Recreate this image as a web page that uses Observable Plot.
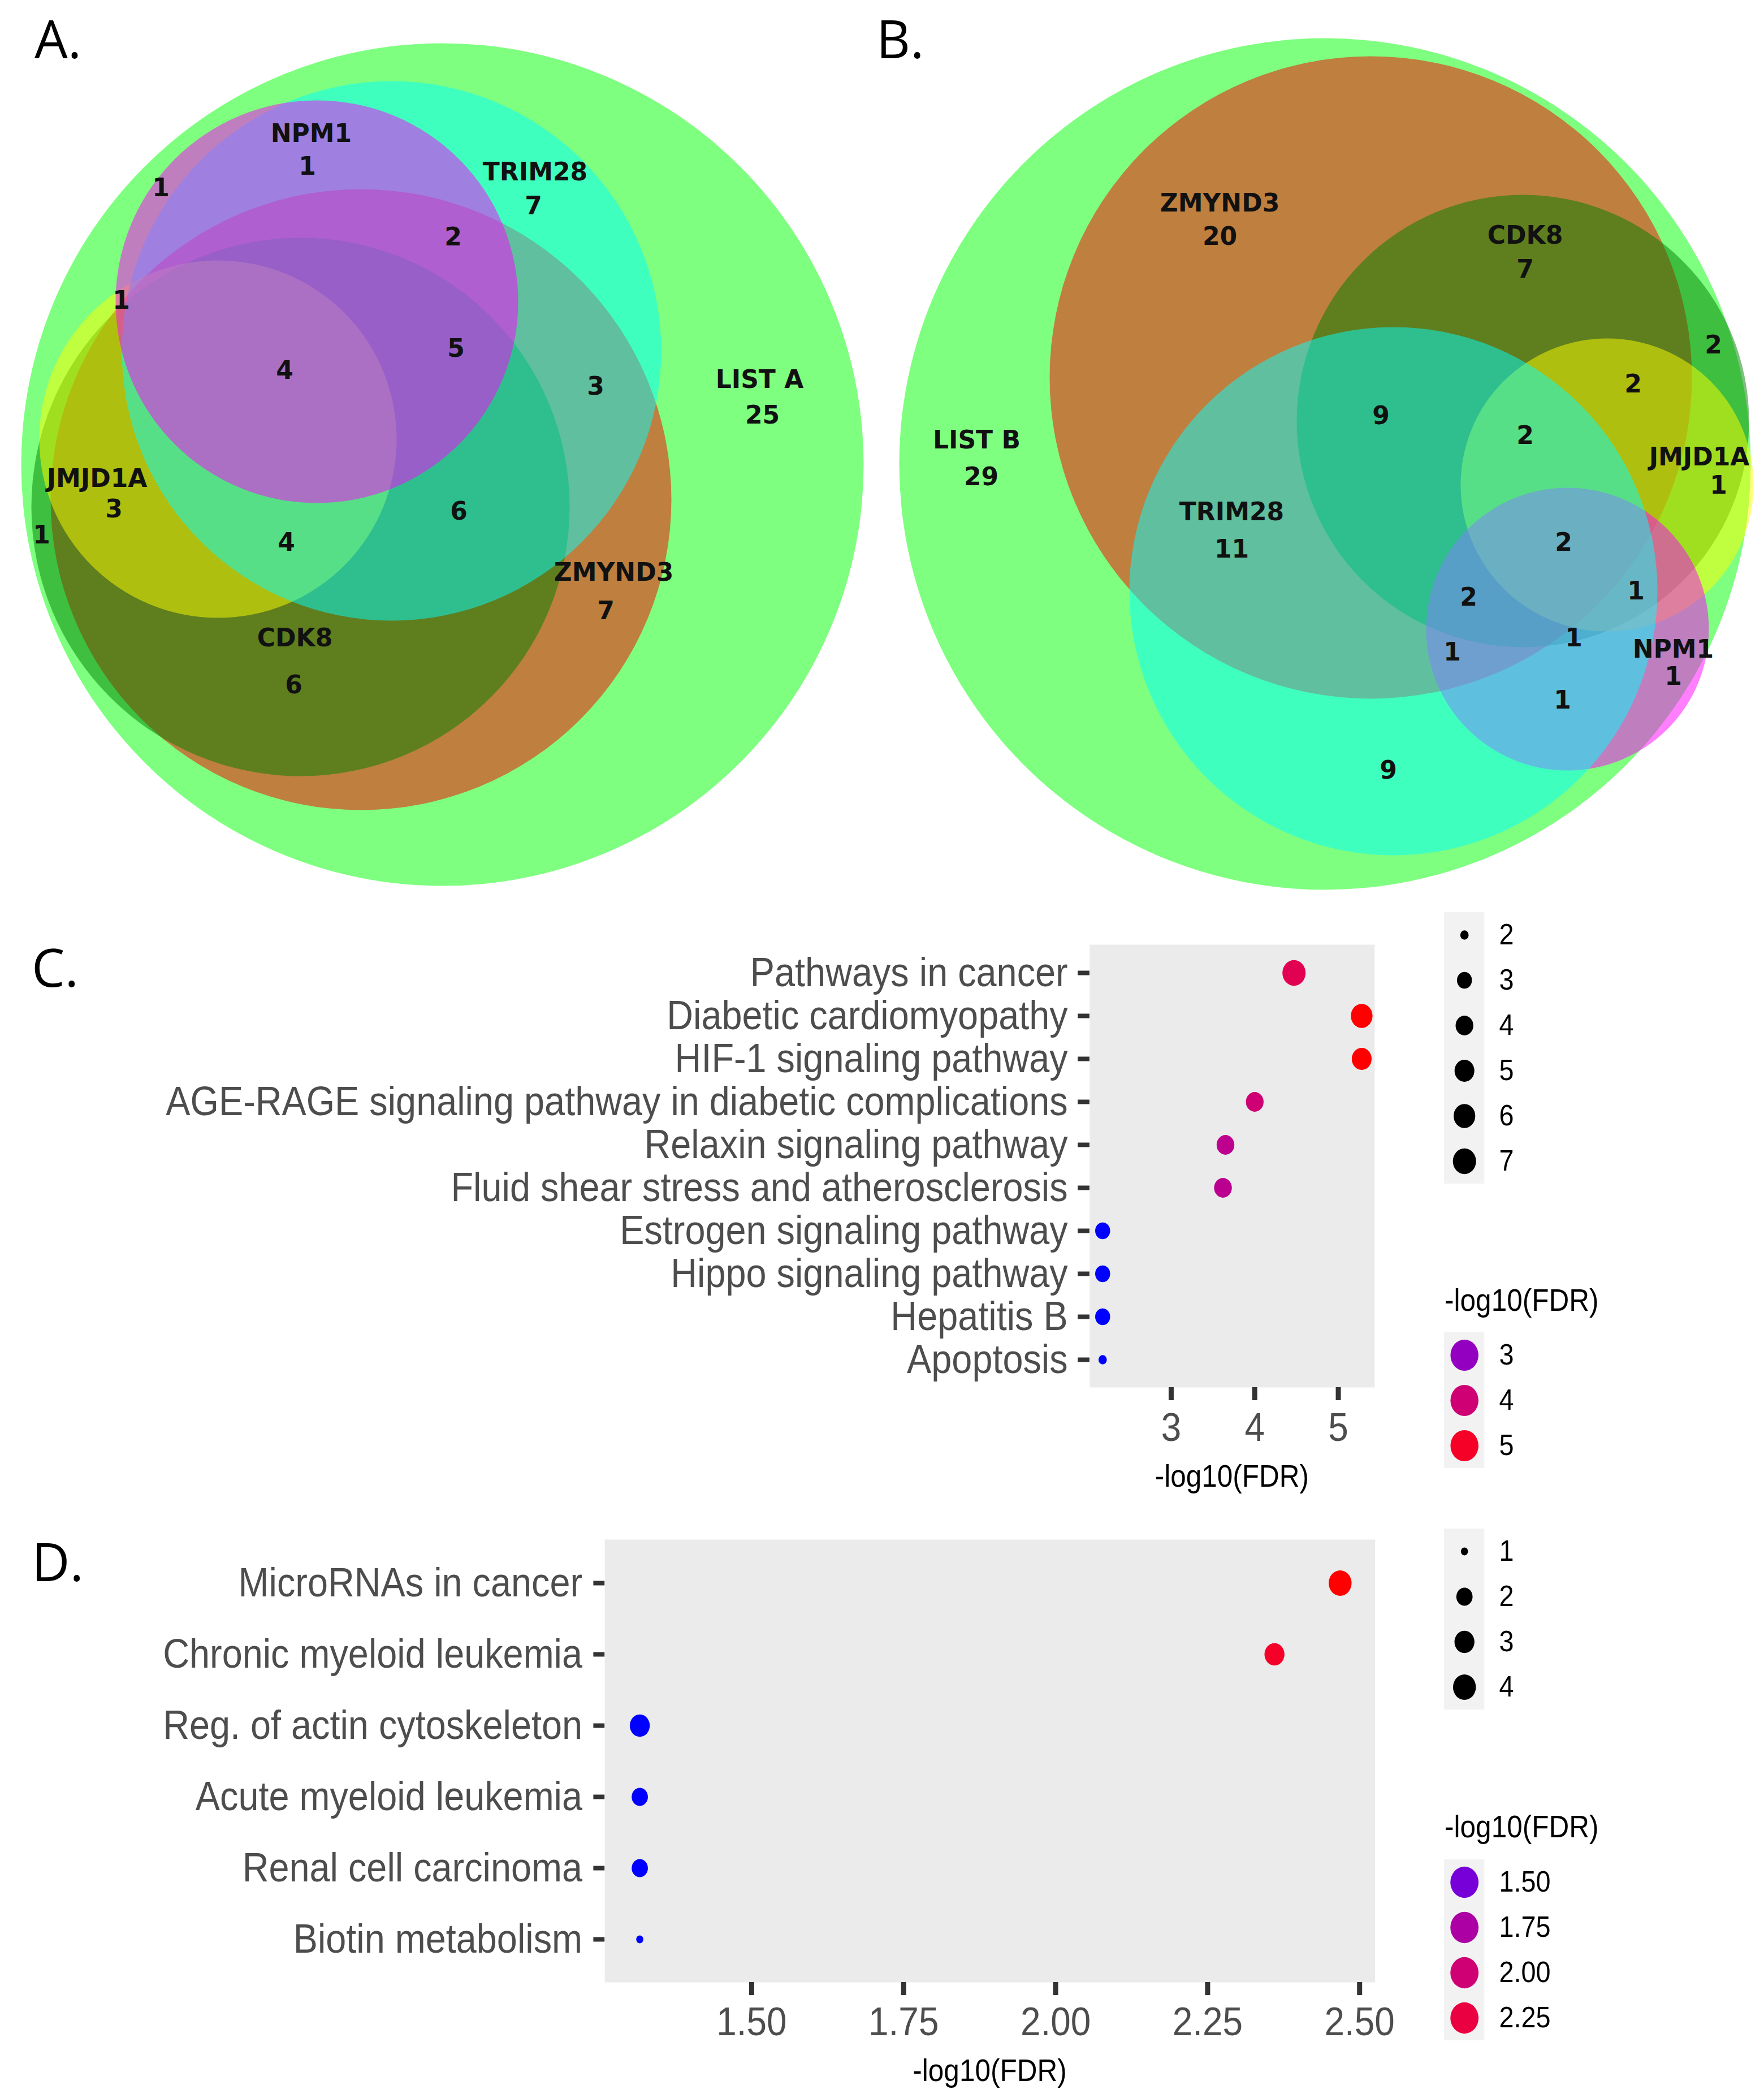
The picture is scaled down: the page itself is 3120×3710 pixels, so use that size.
<!DOCTYPE html>
<html>
<head>
<meta charset="utf-8">
<script src="https://cdn.jsdelivr.net/npm/d3@7"></script>
<script src="https://cdn.jsdelivr.net/npm/@observablehq/plot@0.6"></script>
<style>
  html, body { margin: 0; padding: 0; background: #ffffff; }
  #fig { position: relative; width: 3120px; height: 3710px; overflow: hidden; font-family: "Liberation Sans", Arial, sans-serif; }
  .abs { position: absolute; }
  .letter { font-family: "Open Sans", "Liberation Sans", sans-serif; font-size: 93px; line-height: 1; color: #000; white-space: nowrap; }
  #cd { position: absolute; left: 0; top: 0; width: 3467px; height: 3710px; transform: scaleX(0.9); transform-origin: 0 0; }
  .ttl { line-height: 1; color: #000; white-space: nowrap; }
</style>
</head>
<body>
<div id="fig"><div id="cd"></div></div>
<script>
// ================= DATA =================
// Euler / Venn diagrams: set names, fill colours, layout and region counts
const setNames = ["LIST A", "LIST B", "ZMYND3", "CDK8", "JMJD1A", "TRIM28", "NPM1"];
const setFill  = ["#00ff00", "#00ff00", "#ff0000", "#008000", "#ffff00", "#00ffff", "#ff00ff"];

// Panel A (drawing order)
const setsA = ["LIST A", "ZMYND3", "CDK8", "JMJD1A", "TRIM28", "NPM1"];
const layoutA = [ // circle centre x, centre y, radius (diagram units)
  [78.2, 82.1, 74.5],
  [63.8, 88.3, 54.9],
  [53.1, 89.6, 47.6],
  [38.5, 77.6, 31.6],
  [69.2, 62.0, 47.7],
  [56.0, 53.3, 35.6]
];
const labelsA = ["NPM1","1","1","TRIM28","7","2","1","4","5","3","LIST A","25","JMJD1A","3","1","4","6","ZMYND3","7","CDK8","6"];
const labelPosA = [
  [55.0,23.6],[54.3,29.4],[28.4,33.2],[94.6,30.4],[94.3,36.4],[80.1,41.9],[21.4,53.1],
  [50.3,65.5],[80.6,61.6],[105.3,68.3],[134.3,67.1],[134.8,73.4],[17.1,84.6],[20.1,90.0],
  [7.3,94.6],[50.6,95.9],[81.1,90.4],[108.5,101.2],[107.1,108.0],[52.1,112.8],[51.9,121.1]
];

// Panel B (drawing order)
const setsB = ["LIST B", "ZMYND3", "CDK8", "JMJD1A", "NPM1", "TRIM28"];
const layoutB = [
  [80.3, 82.0, 75.3],
  [88.4, 66.7, 56.8],
  [115.3, 74.4, 40.0],
  [130.2, 85.7, 25.9],
  [123.2, 111.2, 25.0],
  [92.4, 104.5, 46.7]
];
const labelsB = ["ZMYND3","20","CDK8","7","2","2","9","2","LIST B","29","JMJD1A","1","TRIM28","11","2","2","1","1","NPM1","1","1","1","9"];
const labelPosB = [
  [61.7,35.9],[61.7,41.8],[115.7,41.6],[115.7,47.6],[149.0,61.0],[134.8,67.9],[90.2,73.5],
  [115.7,77.0],[18.7,77.8],[19.5,84.3],[146.5,80.8],[149.9,85.8],[63.8,90.5],[63.8,97.1],
  [122.5,95.9],[105.7,105.6],[135.3,104.5],[124.3,112.8],[141.9,114.8],[141.9,119.6],
  [102.8,115.3],[122.3,123.8],[91.5,136.2]
];

// Panel C: KEGG enrichment
const cTerms = [
  "Pathways in cancer", "Diabetic cardiomyopathy", "HIF-1 signaling pathway",
  "AGE-RAGE signaling pathway in diabetic complications", "Relaxin signaling pathway",
  "Fluid shear stress and atherosclerosis", "Estrogen signaling pathway",
  "Hippo signaling pathway", "Hepatitis B", "Apoptosis"
];
const cFDR   = [4.47, 5.28, 5.28, 4.00, 3.65, 3.62, 2.18, 2.18, 2.18, 2.18];
const cGenes = [7, 6, 5, 4, 4, 4, 3, 3, 3, 2];
const cXTicks = [3, 4, 5];
const cSizeKeys = [2, 3, 4, 5, 6, 7];
const cColorKeys = [3, 4, 5];

// Panel D
const dTerms = [
  "MicroRNAs in cancer", "Chronic myeloid leukemia", "Reg. of actin cytoskeleton",
  "Acute myeloid leukemia", "Renal cell carcinoma", "Biotin metabolism"
];
const dFDR   = [2.468, 2.36, 1.316, 1.316, 1.316, 1.316];
const dGenes = [4, 3, 3, 2, 2, 1];
const dXTicks = [1.5, 1.75, 2.0, 2.25, 2.5];
const dSizeKeys = [1, 2, 3, 4];
const dColorKeys = [1.5, 1.75, 2.0, 2.25];

const axisTitle = "-log10(FDR)";

// ================= HELPERS =================
const fig = document.getElementById("fig");
const cd = document.getElementById("cd");

function place(parent, node, left, top, extra) {
  const d = document.createElement("div");
  d.className = "abs";
  d.style.left = left + "px";
  d.style.top = top + "px";
  if (extra) Object.assign(d.style, extra);
  d.appendChild(node);
  parent.appendChild(d);
  return d;
}
function textDiv(parent, text, left, top, size, cls, extra) {
  const d = document.createElement("div");
  d.className = "abs " + cls;
  d.style.left = left + "px";
  d.style.top = top + "px";
  d.style.fontSize = size + "px";
  if (extra) Object.assign(d.style, extra);
  d.textContent = text;
  parent.appendChild(d);
  return d;
}
const baseStyle = {background: "transparent", overflow: "visible", maxWidth: "none", fontFamily: "'Liberation Sans', Arial, sans-serif"};

function vennPlot(sets, layout, labels, pos, W, H) {
  const circles = sets.map((set, i) => ({set, cx: layout[i][0], cy: layout[i][1], r: layout[i][2]}));
  const texts = labels.map((text, i) => ({text, x: pos[i][0], y: pos[i][1]}));
  return Plot.plot({
    width: W, height: H, margin: 0,
    style: baseStyle,
    x: {domain: [0, W / 10], range: [0, W], axis: null},
    y: {domain: [0, H / 10], range: [0, H], axis: null},
    r: {type: "linear", domain: [0, 100], range: [0, 1000]},
    color: {type: "ordinal", domain: setNames, range: setFill},
    marks: [
      Plot.dot(circles, {x: "cx", y: "cy", r: "r", fill: "set", fillOpacity: 0.5, sort: null}),
      Plot.text(texts, {x: "x", y: "y", text: "text", fontFamily: "DejaVu Sans", fontWeight: "bold", fontSize: 44, fill: "#111"})
    ]
  });
}

function sizeScale(genes, r0, r1) {
  const lo = d3.min(genes);
  return {type: "linear", transform: v => Math.sqrt(v - lo), range: [r0, r1]};
}
function colorScale(fdr) {
  return {type: "linear", domain: d3.extent(fdr), range: ["blue", "red"], interpolate: "lab"};
}

function dotPlot(o) {
  const rows = o.terms.map((term, i) => ({term, fdr: o.fdr[i], genes: o.genes[i]}));
  const [lo, hi] = d3.extent(o.fdr);
  const e = 0.05 * (hi - lo);
  const mr = 40;
  return Plot.plot({
    width: o.ml + o.panelW + mr, height: o.mt + o.panelH + o.mb,
    marginLeft: o.ml, marginRight: mr, marginTop: o.mt, marginBottom: o.mb,
    style: Object.assign({}, baseStyle, {fontSize: o.xSize + "px", color: "#4d4d4d"}),
    x: {domain: [lo - e, hi + e]},
    y: {type: "point", domain: o.terms, padding: 0.6},
    r: sizeScale(o.genes, o.r0, o.r1),
    color: colorScale(o.fdr),
    marks: [
      Plot.frame({fill: "#ebebeb", stroke: "none"}),
      Plot.axisY({tickSize: o.yTick, tickPadding: o.yPad, stroke: "#333333", strokeWidth: 8, strokeLinecap: "butt", fill: "#4d4d4d", fontSize: o.ySize, label: null}),
      Plot.axisX({ticks: o.xTicks, tickFormat: o.xFormat, tickSize: o.xTick, tickPadding: o.xPad, stroke: "#333333", strokeWidth: 10, strokeLinecap: "butt", fill: "#4d4d4d", fontSize: o.xSize, label: null}),
      Plot.dot(rows, {x: "fdr", y: "term", r: "genes", fill: "fdr"})
    ]
  });
}

function keyPlot(values, dotOpts, scales, fmt) {
  const kh = 80, kw = 79;
  return Plot.plot(Object.assign({
    width: 260, height: values.length * kh, margin: 0,
    style: Object.assign({}, baseStyle, {fontSize: "52px", color: "#000"}),
    x: {type: "band", domain: ["key"], range: [0, kw], padding: 0, axis: null},
    y: {type: "band", domain: values, range: [0, values.length * kh], padding: 0, axis: null},
    marks: [
      Plot.cell(values, {x: () => "key", y: d => d, fill: "#f2f2f2", inset: 0}),
      Plot.dot(values, Object.assign({x: () => "key", y: d => d}, dotOpts)),
      Plot.text(values, {x: () => "key", y: d => d, text: d => fmt(d), textAnchor: "start", dx: 68, fontSize: 52, fill: "#000"})
    ]
  }, scales));
}

// ================= VENN PANELS =================
place(fig, vennPlot(setsA, layoutA, labelsA, labelPosA, 1560, 1600), 0, 0);
place(fig, vennPlot(setsB, layoutB, labelsB, labelPosB, 1580, 1600), 1540, 0);

// ================= PANEL C =================
place(cd, dotPlot({
  terms: cTerms, fdr: cFDR, genes: cGenes, xTicks: cXTicks, xFormat: d3.format("d"),
  ml: 2141, mt: 70, panelW: 560, panelH: 783, mb: 130,
  ySize: 72, xSize: 71, yTick: 23, yPad: 20, xTick: 23, xPad: 21, r0: 8.2, r1: 22.8
}), 0, 1600);
textDiv(cd, axisTitle, 2141, 2583, 55, "ttl", {width: "560px", textAlign: "center"});
place(cd, keyPlot(cSizeKeys, {r: d => d, fill: "black"}, {r: sizeScale(cGenes, 8.2, 22.8)}, d3.format("d")), 2838, 1613);
textDiv(cd, axisTitle, 2839, 2272, 55, "ttl");
place(cd, keyPlot(cColorKeys, {r: 27.5, fill: d => d}, {color: colorScale(cFDR)}, d3.format("d")), 2838, 2356);

// ================= PANEL D =================
place(cd, dotPlot({
  terms: dTerms, fdr: dFDR, genes: dGenes, xTicks: dXTicks, xFormat: d3.format(".2f"),
  ml: 1188, mt: 72, panelW: 1514, panelH: 783, mb: 120,
  ySize: 72, xSize: 71, yTick: 22, yPad: 22, xTick: 23, xPad: 20, r0: 7, r1: 22.5
}), 0, 2650);
textDiv(cd, axisTitle, 1188, 3634, 55, "ttl", {width: "1514px", textAlign: "center"});
place(cd, keyPlot(dSizeKeys, {r: d => d, fill: "black"}, {r: sizeScale(dGenes, 7, 22.5)}, d3.format("d")), 2838, 2703);
textDiv(cd, axisTitle, 2839, 3203, 55, "ttl");
place(cd, keyPlot(dColorKeys, {r: 27.7, fill: d => d}, {color: colorScale(dFDR)}, d3.format(".2f")), 2838, 3288);

// ================= PANEL LETTERS =================
textDiv(fig, "A.", 61, 21, 93, "letter");
textDiv(fig, "B.", 1550, 21, 93, "letter");
textDiv(fig, "C.", 56, 1663, 93, "letter");
textDiv(fig, "D.", 56, 2714, 93, "letter");
</script>
</body>
</html>
